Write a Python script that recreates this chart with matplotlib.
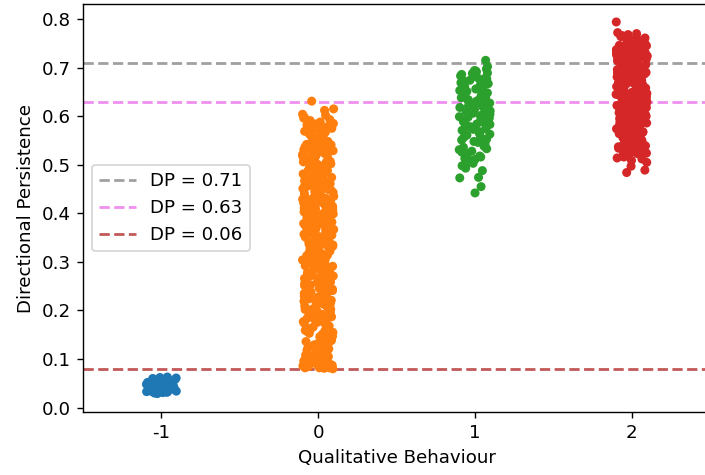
import numpy as np
import pandas as pd
import matplotlib
matplotlib.use("Agg")
import matplotlib.pyplot as plt
import seaborn as sns

categories = [-1, 0, 1, 2]

dp_neg1 = [0.031,0.034,0.036,0.038,0.041,0.043,0.045,0.047,0.049,0.052,
           0.033,0.035,0.039,0.042,0.044,0.046,0.048,0.051,0.053,0.055,
           0.030,0.032,0.037,0.040,0.043,0.045,0.047,0.050,0.054,0.058,
           0.034,0.036,0.038,0.041,0.044,0.046,0.049,0.052,0.056,0.060,
           0.031,0.035,0.039,0.042,0.045,0.048,0.050,0.053,0.057,0.062,
           0.033,0.037,0.040,0.043,0.046,0.049,0.051,0.055,0.059,0.063,
           0.029,0.032,0.036,0.041,0.044,0.047,0.052,0.054,0.061,0.058]

dp_0 = [0.081,0.094,0.086,0.102,0.083,0.089,0.097,0.085,0.092,0.108,
        0.084,0.091,0.099,0.087,0.113,0.082,0.095,0.104,0.088,0.121,
        0.126,0.117,0.134,0.142,0.109,0.138,0.151,0.129,0.146,0.157,
        0.163,0.148,0.172,0.155,0.168,0.181,0.159,0.176,0.187,0.164,
        0.193,0.178,0.201,0.186,0.209,0.196,0.214,0.183,0.205,0.219,
        0.224,0.211,0.232,0.198,0.238,0.227,0.244,0.216,0.251,0.235,
        0.256,0.241,0.262,0.248,0.269,0.253,0.274,0.259,0.281,0.266,
        0.287,0.272,0.293,0.278,0.299,0.284,0.305,0.291,0.311,0.296,
        0.316,0.302,0.322,0.308,0.329,0.314,0.335,0.319,0.341,0.326,
        0.347,0.332,0.353,0.338,0.359,0.344,0.365,0.351,0.371,0.356,
        0.377,0.362,0.383,0.368,0.389,0.374,0.395,0.381,0.401,0.386,
        0.407,0.392,0.413,0.398,0.419,0.404,0.425,0.411,0.431,0.416,
        0.437,0.422,0.443,0.428,0.449,0.434,0.455,0.441,0.461,0.446,
        0.467,0.452,0.473,0.458,0.479,0.464,0.485,0.471,0.491,0.476,
        0.497,0.482,0.503,0.488,0.509,0.494,0.515,0.501,0.521,0.506,
        0.527,0.512,0.533,0.518,0.539,0.524,0.545,0.531,0.551,0.536,
        0.557,0.542,0.563,0.548,0.569,0.554,0.575,0.561,0.582,0.566,
        0.588,0.572,0.596,0.579,0.604,0.591,0.612,0.598,0.631,0.585,
        0.080,0.087,0.093,0.083,0.098,0.090,0.085,0.105,0.096,0.082,
        0.111,0.119,0.124,0.131,0.115,0.136,0.128,0.144,0.139,0.153,
        0.161,0.149,0.166,0.174,0.158,0.179,0.171,0.184,0.191,0.188,
        0.197,0.203,0.192,0.208,0.215,0.199,0.221,0.212,0.228,0.218,
        0.233,0.226,0.239,0.246,0.231,0.252,0.243,0.258,0.249,0.264,
        0.271,0.257,0.276,0.263,0.283,0.268,0.289,0.279,0.295,0.286,
        0.301,0.292,0.307,0.298,0.313,0.304,0.318,0.309,0.325,0.315,
        0.331,0.321,0.337,0.327,0.343,0.333,0.349,0.339,0.355,0.345,
        0.361,0.352,0.367,0.357,0.373,0.363,0.379,0.369,0.385,0.375,
        0.391,0.382,0.397,0.387,0.403,0.393,0.409,0.399,0.415,0.405,
        0.421,0.412,0.427,0.417,0.433,0.423,0.439,0.429,0.445,0.435,
        0.451,0.442,0.457,0.447,0.463,0.453,0.469,0.459,0.475,0.465,
        0.481,0.472,0.487,0.477,0.493,0.483,0.499,0.489,0.505,0.495,
        0.511,0.502,0.517,0.507,0.523,0.513,0.529,0.519,0.535,0.525,
        0.541,0.532,0.547,0.537,0.553,0.543,0.559,0.549,0.565,0.555,
        0.571,0.562,0.577,0.567,0.584,0.574,0.593,0.581,0.602,0.615,
        0.086,0.092,0.101,0.084,0.095,0.088,0.107,0.091,0.082,0.099,
        0.118,0.133,0.147,0.162,0.177,0.189,0.204,0.217,0.229,0.242,
        0.254,0.267,0.279,0.291,0.303,0.317,0.328,0.342,0.354,0.366,
        0.378,0.391,0.402,0.414,0.426,0.438,0.451,0.463,0.474,0.486,
        0.498,0.511,0.522,0.534,0.546,0.557,0.569,0.579,0.093,0.097,
        0.123,0.139,0.156,0.171,0.185,0.202,0.223,0.236,0.261,0.277,
        0.297,0.312,0.336,0.358,0.372,0.396,0.418,0.432,0.456,0.478,
        0.492,0.514,0.538,0.552,0.089,0.100,0.105,0.112,0.086,0.094]

dp_1 = [0.715,0.702,0.694,0.688,0.697,0.683,0.691,0.676,0.686,0.679,
        0.671,0.693,0.667,0.681,0.674,0.662,0.689,0.658,0.669,0.677,
        0.653,0.664,0.648,0.672,0.656,0.643,0.661,0.651,0.638,0.646,
        0.659,0.634,0.641,0.628,0.654,0.636,0.623,0.644,0.631,0.618,
        0.626,0.639,0.613,0.621,0.633,0.608,0.616,0.627,0.603,0.611,
        0.619,0.598,0.606,0.624,0.593,0.601,0.614,0.588,0.596,0.609,
        0.583,0.591,0.604,0.578,0.586,0.599,0.573,0.581,0.594,0.568,
        0.576,0.589,0.563,0.571,0.584,0.558,0.566,0.579,0.553,0.561,
        0.574,0.548,0.556,0.543,0.551,0.538,0.546,0.533,0.541,0.528,
        0.536,0.523,0.531,0.518,0.526,0.513,0.521,0.508,0.516,0.503,
        0.511,0.498,0.506,0.493,0.488,0.473,0.474,0.455,0.442,0.683]

dp_2 = [0.516,0.521,0.519,0.526,0.524,0.531,0.528,0.535,0.533,0.539,
        0.542,0.538,0.546,0.544,0.551,0.548,0.555,0.553,0.559,0.557,
        0.563,0.561,0.567,0.565,0.571,0.569,0.575,0.573,0.579,0.577,
        0.583,0.581,0.587,0.585,0.591,0.589,0.595,0.593,0.599,0.597,
        0.603,0.601,0.607,0.605,0.611,0.609,0.615,0.613,0.619,0.617,
        0.623,0.621,0.627,0.625,0.631,0.629,0.635,0.633,0.639,0.637,
        0.643,0.641,0.647,0.645,0.651,0.649,0.655,0.653,0.659,0.657,
        0.663,0.661,0.667,0.665,0.671,0.669,0.675,0.673,0.679,0.677,
        0.683,0.681,0.687,0.685,0.691,0.689,0.695,0.693,0.699,0.697,
        0.703,0.701,0.707,0.705,0.711,0.709,0.715,0.713,0.719,0.717,
        0.723,0.721,0.727,0.725,0.731,0.729,0.735,0.733,0.739,0.737,
        0.743,0.741,0.747,0.745,0.751,0.749,0.755,0.758,0.762,0.766,
        0.518,0.523,0.529,0.534,0.537,0.543,0.547,0.552,0.556,0.562,
        0.566,0.572,0.576,0.582,0.586,0.592,0.596,0.602,0.606,0.612,
        0.616,0.622,0.626,0.632,0.636,0.642,0.646,0.652,0.656,0.662,
        0.666,0.672,0.676,0.682,0.686,0.692,0.696,0.702,0.706,0.712,
        0.716,0.722,0.726,0.732,0.736,0.742,0.746,0.752,0.756,0.761,
        0.514,0.527,0.541,0.554,0.568,0.581,0.594,0.608,0.621,0.634,
        0.648,0.661,0.674,0.688,0.701,0.714,0.728,0.740,0.753,0.764,
        0.558,0.564,0.574,0.578,0.584,0.588,0.598,0.604,0.614,0.618,
        0.624,0.628,0.638,0.644,0.654,0.658,0.664,0.668,0.678,0.684,
        0.694,0.698,0.704,0.708,0.718,0.724,0.734,0.738,0.744,0.748,
        0.532,0.545,0.558,0.571,0.585,0.597,0.611,0.624,0.637,0.650,
        0.663,0.676,0.690,0.703,0.716,0.729,0.742,0.756,0.540,0.553,
        0.567,0.580,0.593,0.607,0.620,0.633,0.646,0.660,0.673,0.686,
        0.699,0.713,0.726,0.739,0.750,0.525,0.549,0.575,0.600,0.640,
        0.794,0.772,0.768,0.505,0.497,0.489,0.484,0.509,0.512,0.770]

line_values = [0.71, 0.63, 0.08]
line_labels = ["DP = 0.71", "DP = 0.63", "DP = 0.06"]
line_colors = ["#a0a0a0", "#ef8fef", "#c25858"]

series = [dp_neg1, dp_0, dp_1, dp_2]
df = pd.DataFrame({
    "Qualitative Behaviour": np.concatenate([[c] * len(v) for c, v in zip(categories, series)]),
    "Directional Persistence": np.concatenate(series),
})

fs = 10.5
fig = plt.figure(figsize=(5.64, 3.8), dpi=125)
ax = fig.add_axes([0.1177, 0.1326, 0.8894, 0.859])
np.random.seed(3)
sns.stripplot(data=df, x="Qualitative Behaviour", y="Directional Persistence",
              hue="Qualitative Behaviour", palette=["#1f77b4", "#ff7f0e", "#2ca02c", "#d62728"],
              legend=False, jitter=True, size=5.2, ax=ax)

for v, lab, col in zip(line_values, line_labels, line_colors):
    ax.axhline(v, ls="--", lw=1.6, color=col, label=lab)

ax.set_xlim(-0.5, 3.5)
ax.set_ylim(-0.009, 0.831)
ax.set_xticks([0, 1, 2, 3])
ax.set_xticklabels([str(c) for c in categories])
ax.set_yticks(np.arange(0, 0.81, 0.1))
ax.set_yticklabels([f"{t:.1f}" for t in np.arange(0, 0.81, 0.1)])
ax.tick_params(labelsize=fs)
ax.set_xlabel("Qualitative Behaviour", fontsize=fs)
ax.set_ylabel("Directional Persistence", fontsize=fs)
ax.legend(loc="center left", fontsize=fs)

fig.savefig("out.png", dpi=125)
